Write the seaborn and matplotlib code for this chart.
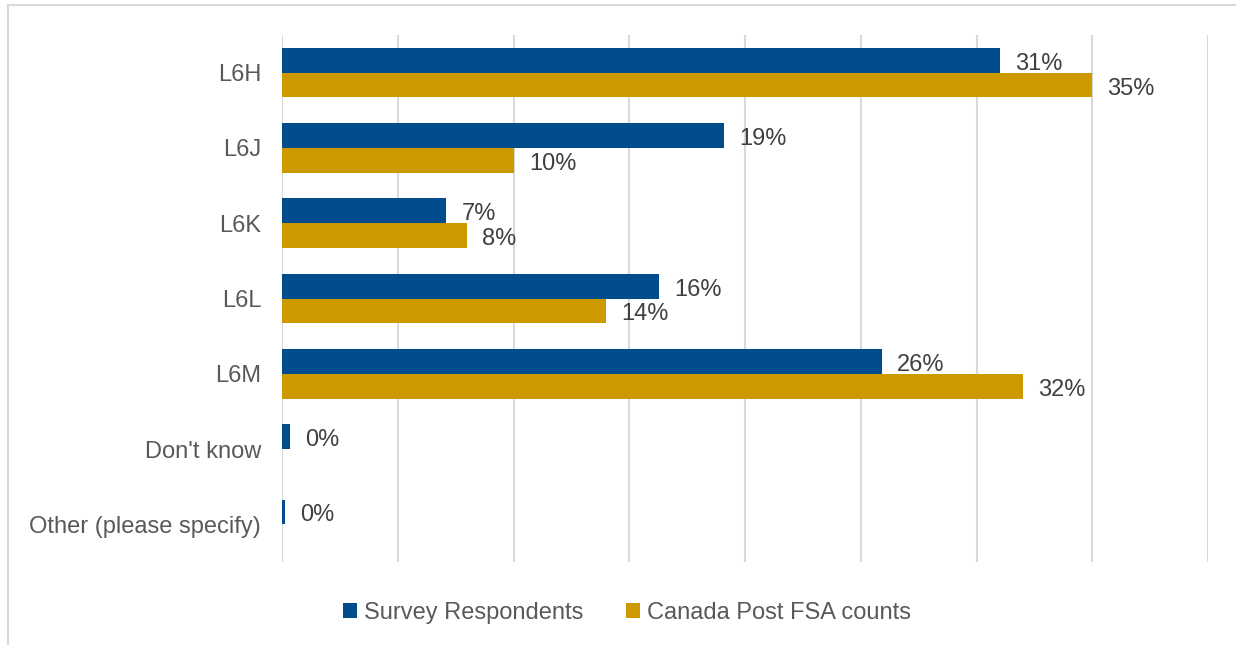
import matplotlib
matplotlib.use("Agg")
import matplotlib.pyplot as plt
import seaborn as sns
import pandas as pd
from matplotlib.patches import Patch
from matplotlib.lines import Line2D

categories = ["L6H", "L6J", "L6K", "L6L", "L6M", "Don't know", "Other (please specify)"]
survey = [31.0, 19.1, 7.1, 16.3, 25.9, 0.35, 0.12]
canada = [35.0, 10.0, 8.0, 14.0, 32.0, 0.0, 0.0]
series_names = ["Survey Respondents", "Canada Post FSA counts"]
colors = ["#004C8C", "#CC9A00"]

df = pd.DataFrame({
    "category": categories * 2,
    "value": survey + canada,
    "series": [series_names[0]] * len(categories) + [series_names[1]] * len(categories),
})

sns.set_theme(style="white")
plt.rcParams["font.family"] = ["Liberation Sans", "DejaVu Sans"]

fig = plt.figure(figsize=(12.36, 6.45), dpi=100)
ax = fig.add_axes([282/1236, 1 - 562/645, (1208-282)/1236, (562-35)/645])

sns.barplot(data=df, y="category", x="value", hue="series", orient="h",
            palette=colors, width=0.66, dodge=True, ax=ax, legend=False,
            saturation=1, order=categories, hue_order=series_names, linewidth=0)

ax.set_xlim(0, 40)
ax.set_ylim(len(categories) - 0.5, -0.5)
ax.set_xticks(range(0, 41, 5))
ax.set_xticklabels([])
ax.grid(axis="x", color="#D9D9D9", linewidth=1.5)
ax.set_axisbelow(True)
for s in ax.spines.values():
    s.set_visible(False)
ax.tick_params(axis="both", length=0)
ax.tick_params(axis="y", labelsize=17, labelcolor="#595959", pad=15)
ax.set_xlabel("")
ax.set_ylabel("")

vals_list = [survey, canada]
for cont, vals in zip(ax.containers, vals_list):
    labels = [f"{v:.0f}%" if v > 0 else "" for v in vals]
    anns = ax.bar_label(cont, labels=labels, padding=11, fontsize=17, color="#404040")
    for a in anns:
        a.xyann = (11, -2.5)

handles = [Patch(facecolor=c, edgecolor="none") for c in colors]
fig.legend(handles, series_names, loc="center", bbox_to_anchor=(627/1236, 1 - 613/645),
           ncol=2, frameon=False, fontsize=17, labelcolor="#595959",
           handlelength=0.6, handleheight=0.6, handletextpad=0.3, columnspacing=1.8)

# outer chart border
fig.add_artist(Line2D([8/1236, 8/1236], [0, 1 - 5/645], transform=fig.transFigure,
                      color="#D9D9D9", linewidth=1.5))
fig.add_artist(Line2D([8/1236, 1], [1 - 5/645, 1 - 5/645], transform=fig.transFigure,
                      color="#D9D9D9", linewidth=1.5))

fig.savefig("out.png", dpi=100, facecolor="white")
